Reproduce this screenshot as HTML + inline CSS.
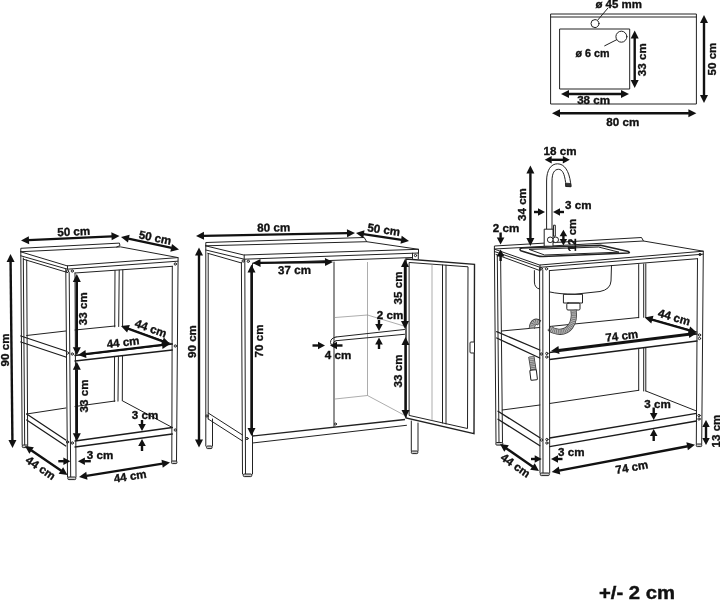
<!DOCTYPE html>
<html><head><meta charset="utf-8"><title>Dimensions</title>
<style>
html,body{margin:0;padding:0;background:#fff;}
body{width:720px;height:601px;overflow:hidden;font-family:"Liberation Sans",sans-serif;}
svg{display:block;filter:grayscale(1);}
.t{fill:none;stroke:#222;stroke-width:1;stroke-linejoin:round;stroke-linecap:round}
.tf{fill:#fff;stroke:#222;stroke-width:1;stroke-linejoin:round}
.t12{fill:none;stroke:#1c1c1c;stroke-width:1.3;stroke-linecap:round}
.t15{fill:none;stroke:#222;stroke-width:1.4}
.t2{fill:none;stroke:#222;stroke-width:1.5;stroke-linejoin:round}
.tip{fill:#333;stroke:#222;stroke-width:.8}
.ft{fill:#ccc;stroke:#222;stroke-width:1}
.g{fill:none;stroke:#8a8a8a;stroke-width:.7}
.a{stroke:#111;fill:none}
.hose1{fill:none;stroke:#3a3a3a;stroke-width:6.2}
.hose2{fill:none;stroke:#b5b5b5;stroke-width:4.6}
.hose3{fill:none;stroke:#666;stroke-width:4.6;stroke-dasharray:.7 1.1}
.h{fill:#111;stroke:none}
.lb{font-family:"Liberation Sans",sans-serif;font-weight:700;fill:#111;stroke:#111;stroke-width:.35;text-anchor:middle;dominant-baseline:central}
.big{font-family:"Liberation Sans",sans-serif;font-weight:700;fill:#111;stroke:#111;stroke-width:.4}
</style></head><body>
<svg width="720" height="601" viewBox="0 0 720 601">
<rect width="720" height="601" fill="#fff"/>
<g id="plan">
<rect class="t" x="551" y="14" width="145.4" height="90"/>
<path class="t" d="M551 17 L696.4 17" />
<rect class="t" x="560" y="29" width="69.7" height="60"/>
<circle class="t" cx="595" cy="23.6" r="4"/>
<circle class="t" cx="621.4" cy="36.7" r="5.5"/>
<path class="t" d="M597.8 20 L608 8" />
<path class="t" d="M616.7 39.7 L604.7 45.8" />
<text class="lb" x="618.7" y="3.6" font-size="11.6" textLength="46.5" lengthAdjust="spacingAndGlyphs">ø 45 mm</text>
<text class="lb" x="592.5" y="52.8" font-size="11.6" textLength="34" lengthAdjust="spacingAndGlyphs">ø 6 cm</text>
<line class="a" x1="634.70" y1="38.00" x2="634.70" y2="80.50" stroke-width="2.4"/>
<polygon class="h" points="634.70,88.00 630.70,80.00 638.70,80.00"/>
<polygon class="h" points="634.70,30.50 630.70,38.50 638.70,38.50"/>
<text class="lb" x="642" y="59.7" font-size="11.6" transform="rotate(-90 642 59.7)">33 cm</text>
<line class="a" x1="704.00" y1="22.50" x2="704.00" y2="95.50" stroke-width="2.4"/>
<polygon class="h" points="704.00,103.00 700.00,95.00 708.00,95.00"/>
<polygon class="h" points="704.00,15.00 700.00,23.00 708.00,23.00"/>
<text class="lb" x="711.7" y="59" font-size="11.6" transform="rotate(-90 711.7 59)">50 cm</text>
<line class="a" x1="568.50" y1="94.00" x2="621.50" y2="94.00" stroke-width="2.4"/>
<polygon class="h" points="629.00,94.00 621.00,98.00 621.00,90.00"/>
<polygon class="h" points="561.00,94.00 569.00,98.00 569.00,90.00"/>
<text class="lb" x="593.6" y="99.9" font-size="11.6">38 cm</text>
<line class="a" x1="559.50" y1="113.30" x2="688.90" y2="113.30" stroke-width="2.4"/>
<polygon class="h" points="696.40,113.30 688.40,117.30 688.40,109.30"/>
<polygon class="h" points="552.00,113.30 560.00,117.30 560.00,109.30"/>
<text class="lb" x="622.8" y="121.7" font-size="11.6">80 cm</text>
</g>
<text class="big" x="599" y="598.7" font-size="18" textLength="76" lengthAdjust="spacingAndGlyphs">+/- 2 cm</text>
<g id="shelf">
<path class="t" d="M115 270.5 L114.3 401.5" />
<path class="t" d="M119.2 270.2 L118 401.5" />
<path class="t" d="M122.8 270 L122.3 401.5" />
<path class="t" d="M20.8 251.7 L120.6 246.9 L178.1 257.6 L67.5 265.8 Z" />
<path class="t" d="M20.8 251.7 L20.8 248.3 L119.4 243.1 L120 245.6 L116.7 247" />
<path class="t" d="M20.8 255.8 L67.5 269.2 L177.8 261.2" />
<path class="t" d="M23.3 259.2 L67.5 272.5" />
<path class="t" d="M75 273 L172.3 266.3" />
<path class="t" d="M67.5 265.8 L67.5 269.2" />
<polygon fill="#fff" stroke="none" points="20.8,336 26.7,335.5 122.8,326.4 172.3,344 172.3,350 75,361 65.8,357 20.8,342"/>
<polygon fill="#fff" stroke="none" points="22,414 26.7,414 122.3,401 172,427.5 172,434 75.5,447 67,446 22,420"/>
<path class="t12" d="M20.8 336 L65.8 351" />
<path class="t12" d="M20.8 342 L65.8 357" />
<path class="t12" d="M75 355.5 L172.3 344" />
<path class="t12" d="M75 361 L172.3 350" />
<path class="t" d="M26.7 335.5 L65.8 331" />
<path class="t" d="M75 330 L115 326" />
<path class="t" d="M122.8 326.5 L172.3 344" />
<path class="t12" d="M26.7 414 L65.8 440" />
<path class="t12" d="M26.7 420 L65.8 446" />
<path class="t12" d="M75 441 L172.3 427.5" />
<path class="t12" d="M75 447 L172.3 434" />
<path class="t" d="M26.7 414 L65.8 408" />
<path class="t" d="M75 406.5 L115 401" />
<path class="t" d="M122.8 401 L172.3 427.5" />
<circle class="t" cx="67.5" cy="271.2" r="1.15"/>
<circle class="t" cx="72.3" cy="271" r="1.15"/>
<circle class="t" cx="175.3" cy="264" r="1.15"/>
<circle class="t" cx="67.5" cy="353" r="1.15"/>
<circle class="t" cx="72.3" cy="354" r="1.15"/>
<circle class="t" cx="175.3" cy="346" r="1.15"/>
<circle class="t" cx="67.5" cy="442" r="1.15"/>
<circle class="t" cx="72.3" cy="443" r="1.15"/>
<circle class="t" cx="175.3" cy="430" r="1.15"/>
<path class="t" d="M20.8 252 L22.2 445" />
<path class="t" d="M23.3 258 L24.7 445" />
<path class="t" d="M26.7 260 L27.7 445" />
<rect class="ft" x="22.25" y="445" width="5.5" height="2.6" rx="1"/>
<path class="t" d="M65.8 269 L67.5 477" />
<path class="t" d="M69.2 272.5 L70.7 477" />
<path class="t" d="M75 273 L76 477" />
<rect class="ft" x="67.8" y="477" width="8" height="2.6" rx="1"/>
<path class="t" d="M172.3 266.3 L171.8 461" />
<path class="t" d="M178.1 257.6 L176.5 461" />
<rect class="ft" x="171.45" y="461" width="5.5" height="2.6" rx="1"/>
<line class="a" x1="28.49" y1="240.16" x2="112.01" y2="236.34" stroke-width="2.4"/>
<polygon class="h" points="119.50,236.00 111.69,240.36 111.33,232.37"/>
<polygon class="h" points="21.00,240.50 29.17,244.13 28.81,236.14"/>
<text class="lb" x="73.7" y="231" font-size="11.6" transform="rotate(-2.6 73.7 231)">50 cm</text>
<line class="a" x1="128.33" y1="238.58" x2="171.67" y2="247.92" stroke-width="2.4"/>
<polygon class="h" points="179.00,249.50 170.34,251.72 172.02,243.90"/>
<polygon class="h" points="121.00,237.00 127.98,242.60 129.66,234.78"/>
<text class="lb" x="155.3" y="237.2" font-size="11.6" transform="rotate(12 155.3 237.2)">50 cm</text>
<line class="a" x1="10.58" y1="261.50" x2="12.42" y2="440.50" stroke-width="2.4"/>
<polygon class="h" points="12.50,448.00 8.42,440.04 16.42,439.96"/>
<polygon class="h" points="10.50,254.00 6.58,262.04 14.58,261.96"/>
<text class="lb" x="4.5" y="350" font-size="11.6" transform="rotate(-90 4.5 350)">90 cm</text>
<line class="a" x1="76.80" y1="281.50" x2="76.80" y2="347.80" stroke-width="2.4"/>
<polygon class="h" points="76.80,355.30 72.80,347.30 80.80,347.30"/>
<polygon class="h" points="76.80,274.00 72.80,282.00 80.80,282.00"/>
<text class="lb" x="82.8" y="308.7" font-size="11.6" transform="rotate(-90 82.8 308.7)">33 cm</text>
<line class="a" x1="85.45" y1="354.11" x2="162.55" y2="344.89" stroke-width="2.4"/>
<polygon class="h" points="170.00,344.00 162.53,348.92 161.58,340.98"/>
<polygon class="h" points="78.00,355.00 86.42,358.02 85.47,350.08"/>
<text class="lb" x="123" y="341.8" font-size="11.6" transform="rotate(-6.8 123 341.8)">44 cm</text>
<line class="a" x1="128.04" y1="328.59" x2="162.96" y2="341.41" stroke-width="2.4"/>
<polygon class="h" points="170.00,344.00 161.11,345.00 163.87,337.49"/>
<polygon class="h" points="121.00,326.00 127.13,332.51 129.89,325.00"/>
<text class="lb" x="151" y="328" font-size="11.6" transform="rotate(20 151 328)">44 cm</text>
<line class="a" x1="76.80" y1="369.30" x2="76.80" y2="433.80" stroke-width="2.4"/>
<polygon class="h" points="76.80,441.30 72.80,433.30 80.80,433.30"/>
<polygon class="h" points="76.80,361.80 72.80,369.80 80.80,369.80"/>
<text class="lb" x="83" y="396" font-size="11.6" transform="rotate(-90 83 396)">33 cm</text>
<line class="a" x1="142.00" y1="420.00" x2="142.00" y2="424.50" stroke-width="2.4"/>
<polygon class="h" points="142.00,431.00 138.20,424.00 145.80,424.00"/>
<line class="a" x1="142.00" y1="451.00" x2="142.00" y2="445.50" stroke-width="2.4"/>
<polygon class="h" points="142.00,439.00 145.80,446.00 138.20,446.00"/>
<text class="lb" x="145" y="414" font-size="11.6">3 cm</text>
<line class="a" x1="58.30" y1="461.20" x2="63.90" y2="461.20" stroke-width="2.4"/>
<polygon class="h" points="70.40,461.20 63.40,465.00 63.40,457.40"/>
<line class="a" x1="90.80" y1="461.20" x2="84.40" y2="461.20" stroke-width="2.4"/>
<polygon class="h" points="77.90,461.20 84.90,457.40 84.90,465.00"/>
<text class="lb" x="100" y="454.5" font-size="11.6">3 cm</text>
<line class="a" x1="31.20" y1="450.23" x2="61.30" y2="470.77" stroke-width="2.4"/>
<polygon class="h" points="67.50,475.00 58.64,473.79 63.15,467.19"/>
<polygon class="h" points="25.00,446.00 29.35,453.81 33.86,447.21"/>
<text class="lb" x="41" y="467.5" font-size="11.6" transform="rotate(34 41 467.5)">44 cm</text>
<line class="a" x1="86.41" y1="475.82" x2="162.59" y2="463.68" stroke-width="2.4"/>
<polygon class="h" points="170.00,462.50 162.73,467.71 161.47,459.81"/>
<polygon class="h" points="79.00,477.00 87.53,479.69 86.27,471.79"/>
<text class="lb" x="130" y="475.7" font-size="11.6" transform="rotate(-9 130 475.7)">44 cm</text>
</g>
<g id="cab">
<path class="t" d="M205.8 245.8 L366.7 241.7 L418.5 249.3 L244.2 255 Z" />
<path class="t" d="M205.8 245.8 L205.8 242.5 L364.2 237.5 L366.7 241.7" />
<path class="t" d="M205.8 250 L244.2 259.2 L418.5 253" />
<path class="t" d="M418.5 249.3 L418.5 253" />
<path class="t" d="M244.2 255 L244.2 259.2" />
<path class="t" d="M207.8 253.3 L241.5 263" />
<path class="t" d="M205.8 245.8 L205.8 446" />
<path class="t" d="M208.2 253.5 L208.2 419" />
<path class="t" d="M212.5 419 L212.5 446" />
<rect class="ft" x="206.55" y="446" width="5.5" height="2.6" rx="1"/>
<path class="t" d="M208.2 413 L242.5 435" />
<path class="t" d="M208.2 419 L242.5 441" />
<path class="t" d="M241.4 262.5 L242.5 474" />
<path class="t" d="M244.8 259.5 L245.5 474" />
<path class="t" d="M252.5 264 L252.5 474" />
<rect class="ft" x="243.25" y="474" width="8.5" height="2.6" rx="1"/>
<path class="t" d="M252.5 263.3 L412.5 257.5" />
<path class="t15" d="M252.5 436 L405 419.5" />
<path class="t" d="M252.5 443 L406.5 425.3" />
<path class="t" d="M412.5 253.2 L412.5 258.5" />
<path class="t" d="M418.3 253 L418.3 258.8" />
<path class="t" d="M411.3 421 L411.3 451" />
<path class="t" d="M418 423 L418 451" />
<rect class="ft" x="411.35" y="451" width="6.5" height="2.6" rx="1"/>
<path class="t" d="M334 262 L334 426.5" />
<g class="g">
<path d="M367.5 262 V395.5 M335 399 L367.5 395.5 L404 415 M335 317.5 L367.5 315 L404 326"/>
</g>
<path class="t" d="M336 337 L404.5 329.5" />
<path class="t" d="M336 340.7 L404.5 334.3" />
<path class="t" d="M336 337 Q330.5 338 330.5 342.5 Q330.8 346.5 334 346.5 M336 340.7 Q333 341.5 333 344" />
<circle class="t" cx="335.5" cy="424" r="1"/>
<path class="t15" d="M406 259 L474.5 264.3 L474 433.6 L406 418 Z" />
<path class="t" d="M409.5 262.5 L468 266.8 L467.5 428.5 L409.5 415.5 Z" />
<path class="g" d="M432 264 L432 420.5" />
<path class="t" d="M442.5 265 L442.5 423" />
<path class="t" d="M446 265.2 L446 424" />
<rect class="tf" x="470" y="342" width="4.5" height="11" rx="1"/>
<circle class="t" cx="243.2" cy="261" r="1.15"/>
<circle class="t" cx="248.3" cy="261.3" r="1.15"/>
<circle class="t" cx="415.5" cy="255.5" r="1.15"/>
<circle class="t" cx="247" cy="438.5" r="1.15"/>
<circle class="t" cx="207" cy="416" r="1.15"/>
<line class="a" x1="203.50" y1="235.86" x2="347.50" y2="233.14" stroke-width="2.4"/>
<polygon class="h" points="355.00,233.00 347.08,237.15 346.93,229.15"/>
<polygon class="h" points="196.00,236.00 204.07,239.85 203.92,231.85"/>
<text class="lb" x="273.7" y="227" font-size="11.6" transform="rotate(-1 273.7 227)">80 cm</text>
<line class="a" x1="363.42" y1="234.12" x2="401.58" y2="239.88" stroke-width="2.4"/>
<polygon class="h" points="409.00,241.00 400.49,243.76 401.69,235.85"/>
<polygon class="h" points="356.00,233.00 363.31,238.15 364.51,230.24"/>
<text class="lb" x="383.9" y="229.2" font-size="11.6" transform="rotate(8.6 383.9 229.2)">50 cm</text>
<line class="a" x1="199.00" y1="255.00" x2="199.00" y2="440.00" stroke-width="2.4"/>
<polygon class="h" points="199.00,447.50 195.00,439.50 203.00,439.50"/>
<polygon class="h" points="199.00,247.50 195.00,255.50 203.00,255.50"/>
<text class="lb" x="191.4" y="341.5" font-size="11.6" transform="rotate(-90 191.4 341.5)">90 cm</text>
<line class="a" x1="260.00" y1="262.91" x2="325.50" y2="262.09" stroke-width="2.4"/>
<polygon class="h" points="333.00,262.00 325.05,266.10 324.95,258.10"/>
<polygon class="h" points="252.50,263.00 260.55,266.90 260.45,258.90"/>
<text class="lb" x="294.5" y="269.5" font-size="11.6" transform="rotate(-0.7 294.5 269.5)">37 cm</text>
<line class="a" x1="251.50" y1="272.00" x2="251.50" y2="428.50" stroke-width="2.4"/>
<polygon class="h" points="251.50,436.00 247.50,428.00 255.50,428.00"/>
<polygon class="h" points="251.50,264.50 247.50,272.50 255.50,272.50"/>
<text class="lb" x="258.5" y="341" font-size="11.6" transform="rotate(-90 258.5 341)">70 cm</text>
<line class="a" x1="312.50" y1="345.50" x2="318.50" y2="345.50" stroke-width="2.4"/>
<polygon class="h" points="325.00,345.50 318.00,349.30 318.00,341.70"/>
<line class="a" x1="342.50" y1="345.50" x2="336.50" y2="345.50" stroke-width="2.4"/>
<polygon class="h" points="330.00,345.50 337.00,341.70 337.00,349.30"/>
<text class="lb" x="338" y="354.7" font-size="11.6">4 cm</text>
<line class="a" x1="405.00" y1="266.50" x2="405.00" y2="321.50" stroke-width="2.4"/>
<polygon class="h" points="405.00,329.00 401.00,321.00 409.00,321.00"/>
<polygon class="h" points="405.00,259.00 401.00,267.00 409.00,267.00"/>
<text class="lb" x="397" y="288" font-size="11.6" transform="rotate(-90 397 288)">35 cm</text>
<line class="a" x1="379.00" y1="320.00" x2="379.00" y2="324.50" stroke-width="2.4"/>
<polygon class="h" points="379.00,331.00 375.20,324.00 382.80,324.00"/>
<line class="a" x1="379.00" y1="349.00" x2="379.00" y2="344.00" stroke-width="2.4"/>
<polygon class="h" points="379.00,337.50 382.80,344.50 375.20,344.50"/>
<text class="lb" x="390" y="314.4" font-size="11.6">2 cm</text>
<line class="a" x1="405.50" y1="344.50" x2="405.50" y2="410.50" stroke-width="2.4"/>
<polygon class="h" points="405.50,418.00 401.50,410.00 409.50,410.00"/>
<polygon class="h" points="405.50,337.00 401.50,345.00 409.50,345.00"/>
<text class="lb" x="397" y="371" font-size="11.6" transform="rotate(-90 397 371)">33 cm</text>
</g>
<g id="sink">
<path class="t" d="M638.7 264.5 L638.7 390.3" />
<path class="t" d="M643.7 264 L643.7 391" />
<path class="t" d="M645.8 263.8 L645.8 391" />
<polygon fill="#fff" stroke="none" points="496.7,331.7 501.5,331 645.8,317.5 697,332 697,341 549.5,359.5 539.8,358 496.7,338"/>
<path class="t" d="M494.4 249 L643.5 241 L703.3 251.2 L540 265 Z" />
<path class="t" d="M494.4 249 L494.4 246 L641.5 237.5 L643.5 241" />
<path class="t" d="M494.4 251.5 L540 267.3 L703 254.2" />
<path class="t" d="M496 254.5 L540 270.6" />
<path class="t" d="M549.4 270.6 L697.5 258.7" />
<path class="t" d="M540 265 L540 270.6" />
<path class="t" d="M534.4 270.6 V282 Q534.6 288 539.4 289" />
<path class="t" d="M549.4 291.9 Q560 294.3 575 294.2 L600 291.5 Q610.5 289.5 611 281 L611.5 265.5" />
<path class="t2" d="M522.5 248 L600.5 245.2 L628.5 251.6 Q630.5 252.6 628 253 L543 256.6 Q540 256.7 537 255.8 L520.8 250.8 Q518.5 248.5 522.5 248 Z" />
<path class="t" d="M529.5 249.4 L598.5 247 L619 252.2 L545 255 Z" />
<rect class="t" x="563.8" y="294.3" width="18.7" height="8.7"/>
<rect class="t" x="566.8" y="303" width="13.2" height="7" rx="1.2"/>
<path class="t12" d="M496.7 331.7 L539.8 350" />
<path class="t12" d="M496.7 338 L539.8 358" />
<path class="t12" d="M549.5 352.5 L697 334" />
<path class="t12" d="M549.5 359.5 L697 341" />
<path class="t" d="M501.5 331 L539.7 327.5" />
<path class="t" d="M549.5 326.5 L638.7 317.5" />
<path class="t" d="M645.8 317.5 L697 332" />
<path class="t12" d="M498 411.3 L539.9 437.7" />
<path class="t12" d="M498 419.3 L539.9 445.7" />
<path class="t12" d="M549.6 438 L696.5 413.3" />
<path class="t12" d="M549.6 446.7 L696.5 421" />
<path class="t" d="M502.3 410 L539.9 405" />
<path class="t" d="M549.6 403.5 L638.7 390.3" />
<path class="t" d="M645.8 391 L696.5 411" />
<path class="hose1" d="M573.5 310 C575.5 323 569 333.5 557 331.5 C553.5 331 551 329.5 549.6 328" />
<path class="hose2" d="M573.5 310 C575.5 323 569 333.5 557 331.5 C553.5 331 551 329.5 549.6 328" />
<path class="hose3" d="M573.5 310 C575.5 323 569 333.5 557 331.5 C553.5 331 551 329.5 549.6 328" />
<path class="hose1" d="M539.5 323 C536 320.5 532.5 321.5 531.8 328.5" />
<path class="hose2" d="M539.5 323 C536 320.5 532.5 321.5 531.8 328.5" />
<path class="hose3" d="M539.5 323 C536 320.5 532.5 321.5 531.8 328.5" />
<path class="hose1" d="M531.3 356.5 L533.6 371" />
<path class="hose2" d="M531.3 356.5 L533.6 371" />
<path class="hose3" d="M531.3 356.5 L533.6 371" />
<rect class="tf" x="530.3" y="370" width="6.6" height="10" rx="1" transform="rotate(-7 533.6 375)"/>
<path class="t" d="M494.4 249 L496 442.5" />
<path class="t" d="M497.3 255 L499 442.5" />
<path class="t" d="M500.6 256.5 L502.5 442.5" />
<rect class="ft" x="495.8" y="442.5" width="7" height="2.6" rx="1"/>
<path class="t" d="M539.6 268 L540 473" />
<path class="t" d="M542.8 270 L543 473" />
<path class="t" d="M549.4 270.6 L549.7 473" />
<rect class="ft" x="540.3" y="473" width="9" height="2.6" rx="1"/>
<path class="t" d="M697.5 258.7 L696.3 444" />
<path class="t" d="M703.3 251.2 L701.7 444" />
<rect class="ft" x="696.25" y="444" width="5.5" height="2.6" rx="1"/>
<circle class="t" cx="541.2" cy="268.7" r="1.15"/>
<circle class="t" cx="546.5" cy="268.8" r="1.15"/>
<circle class="t" cx="700" cy="254.5" r="1.15"/>
<circle class="t" cx="541.3" cy="354" r="1.15"/>
<circle class="t" cx="546.8" cy="353.5" r="1.15"/>
<circle class="t" cx="546.8" cy="357" r="1.15"/>
<circle class="t" cx="699.5" cy="335" r="1.15"/>
<circle class="t" cx="699.5" cy="338.5" r="1.15"/>
<circle class="t" cx="541.5" cy="440" r="1.15"/>
<circle class="t" cx="546.9" cy="439.5" r="1.15"/>
<circle class="t" cx="546.9" cy="443" r="1.15"/>
<circle class="t" cx="699" cy="415.5" r="1.15"/>
<circle class="t" cx="699" cy="419" r="1.15"/>
<path class="tf" d="M546.6 229.2 V181 C546.6 170 551 163.8 557.5 163.8 C564.5 163.8 569 171 570.6 182.8 L571 186.7 L565.8 186.5 L565.6 182.5 C564.5 174 562.5 169.3 558.5 169.3 C554.5 169.3 552 173 552 181 V229.2" />
<path class="tip" d="M565.7 183.2 L570.7 183.5 L571 186.6 L565.8 186.4 Z" />
<rect class="tf" x="544.2" y="229.2" width="8.8" height="17"/>
<rect class="tf" x="553.5" y="225.2" width="1.8" height="11"/>
<circle class="tf" cx="555.7" cy="239.8" r="2.8"/>
<circle class="tf" cx="550.2" cy="239.8" r="2.8"/>
<line class="a" x1="551.20" y1="159.80" x2="563.30" y2="159.80" stroke-width="2.4"/>
<polygon class="h" points="569.80,159.80 562.80,163.55 562.80,156.05"/>
<polygon class="h" points="544.70,159.80 551.70,163.55 551.70,156.05"/>
<text class="lb" x="560" y="150.2" font-size="11.6">18 cm</text>
<line class="a" x1="530.40" y1="173.10" x2="530.40" y2="238.50" stroke-width="2.4"/>
<polygon class="h" points="530.40,246.00 526.40,238.00 534.40,238.00"/>
<polygon class="h" points="530.40,165.60 526.40,173.60 534.40,173.60"/>
<text class="lb" x="521.8" y="204.5" font-size="11.6" transform="rotate(-90 521.8 204.5)">34 cm</text>
<line class="a" x1="534.00" y1="212.00" x2="538.50" y2="212.00" stroke-width="2.4"/>
<polygon class="h" points="545.00,212.00 538.00,215.80 538.00,208.20"/>
<line class="a" x1="564.00" y1="212.00" x2="559.50" y2="212.00" stroke-width="2.4"/>
<polygon class="h" points="553.00,212.00 560.00,208.20 560.00,215.80"/>
<text class="lb" x="578.3" y="204.5" font-size="11.6">3 cm</text>
<line class="a" x1="563.40" y1="235.70" x2="563.40" y2="239.50" stroke-width="2.4"/>
<polygon class="h" points="563.40,245.50 559.65,239.00 567.15,239.00"/>
<polygon class="h" points="563.40,229.70 559.65,236.20 567.15,236.20"/>
<text class="lb" x="571.8" y="235" font-size="11.6" transform="rotate(-90 571.8 235)">12 cm</text>
<line class="a" x1="500.60" y1="232.50" x2="500.60" y2="237.90" stroke-width="2.4"/>
<polygon class="h" points="500.60,244.40 496.80,237.40 504.40,237.40"/>
<line class="a" x1="500.60" y1="261.00" x2="500.60" y2="255.90" stroke-width="2.4"/>
<polygon class="h" points="500.60,249.40 504.40,256.40 496.80,256.40"/>
<text class="lb" x="506" y="227.5" font-size="11.6">2 cm</text>
<line class="a" x1="651.91" y1="319.58" x2="689.49" y2="330.42" stroke-width="2.4"/>
<polygon class="h" points="696.70,332.50 687.90,334.13 690.12,326.44"/>
<polygon class="h" points="644.70,317.50 651.28,323.56 653.50,315.87"/>
<text class="lb" x="674.3" y="316.7" font-size="11.6" transform="rotate(16 674.3 316.7)">44 cm</text>
<line class="a" x1="558.44" y1="350.08" x2="689.26" y2="333.92" stroke-width="2.4"/>
<polygon class="h" points="696.70,333.00 689.25,337.95 688.27,330.01"/>
<polygon class="h" points="551.00,351.00 559.43,353.99 558.45,346.05"/>
<text class="lb" x="621.7" y="335.3" font-size="11.6" transform="rotate(-7 621.7 335.3)">74 cm</text>
<line class="a" x1="653.70" y1="407.50" x2="653.70" y2="413.50" stroke-width="2.4"/>
<polygon class="h" points="653.70,420.00 649.90,413.00 657.50,413.00"/>
<line class="a" x1="653.70" y1="441.00" x2="653.70" y2="435.50" stroke-width="2.4"/>
<polygon class="h" points="653.70,429.00 657.50,436.00 649.90,436.00"/>
<text class="lb" x="657.5" y="403" font-size="11.6">3 cm</text>
<line class="a" x1="706.00" y1="426.50" x2="706.00" y2="438.50" stroke-width="2.4"/>
<polygon class="h" points="706.00,445.00 702.25,438.00 709.75,438.00"/>
<polygon class="h" points="706.00,420.00 702.25,427.00 709.75,427.00"/>
<text class="lb" x="715.4" y="431" font-size="11.6" transform="rotate(-90 715.4 431)">13 cm</text>
<line class="a" x1="531.00" y1="459.00" x2="535.20" y2="459.00" stroke-width="2.4"/>
<polygon class="h" points="541.70,459.00 534.70,462.80 534.70,455.20"/>
<line class="a" x1="562.50" y1="459.00" x2="557.50" y2="459.00" stroke-width="2.4"/>
<polygon class="h" points="551.00,459.00 558.00,455.20 558.00,462.80"/>
<text class="lb" x="571.3" y="451.3" font-size="11.6">3 cm</text>
<line class="a" x1="506.17" y1="448.27" x2="532.83" y2="466.73" stroke-width="2.4"/>
<polygon class="h" points="539.00,471.00 530.15,469.74 534.70,463.16"/>
<polygon class="h" points="500.00,444.00 504.30,451.84 508.85,445.26"/>
<text class="lb" x="515.8" y="465" font-size="11.6" transform="rotate(34.7 515.8 465)">44 cm</text>
<line class="a" x1="559.07" y1="470.60" x2="687.63" y2="446.20" stroke-width="2.4"/>
<polygon class="h" points="695.00,444.80 687.89,450.22 686.39,442.36"/>
<polygon class="h" points="551.70,472.00 560.31,474.44 558.81,466.58"/>
<text class="lb" x="631.7" y="466.7" font-size="11.6" transform="rotate(-10.3 631.7 466.7)">74 cm</text>
</g>
</svg>
</body></html>
